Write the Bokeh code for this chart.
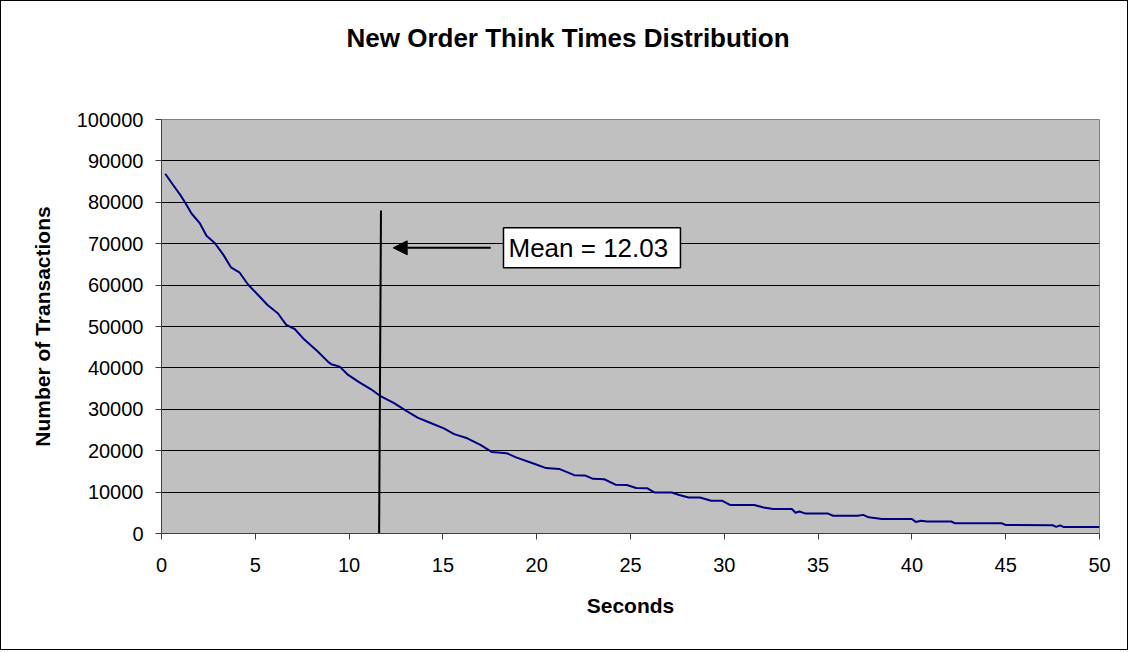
from bokeh.plotting import figure
from bokeh.models import Range1d, SingleIntervalTicker, BasicTickFormatter, Arrow, NormalHead, Label, Title
from bokeh.embed import file_html
from bokeh.resources import INLINE

# ---- data ----
seconds = [0.2, 0.6, 1.0, 1.25, 1.6, 2.05, 2.4, 2.85, 3.3, 3.7, 4.15, 4.6, 5.15, 5.65, 6.2, 6.65,
           7.1, 7.6, 8.3, 8.9, 9.05, 9.5, 9.95, 10.55, 11.15, 11.7, 12.4, 13.05, 13.65, 14.35, 15.05,
           15.6, 16.3, 17.0, 17.6, 18.4, 18.9, 19.9, 20.5, 21.2, 22.0, 22.6, 23.0, 23.6, 24.2, 24.8,
           25.3, 25.9, 26.3, 27.2, 27.6, 28.1, 28.7, 29.3, 29.9, 30.3, 31.6, 32.1, 32.6, 33.6, 33.8,
           34.0, 34.3, 35.5, 35.8, 36.9, 37.1, 37.4, 37.7, 38.4, 40.0, 40.2, 40.5, 40.8, 42.1, 42.3,
           44.8, 45.0, 47.5, 47.7, 47.9, 48.1, 50.0]
transactions = [86900, 84300, 81800, 80000, 77300, 74900, 71900, 70100, 67300, 64300, 63100, 60200,
                57600, 55200, 53200, 50400, 49400, 46900, 44100, 41400, 40900, 40300, 38300, 36500,
                34900, 33100, 31500, 29600, 28000, 26700, 25400, 24000, 23000, 21400, 19700, 19400,
                18400, 16800, 15800, 15600, 14100, 14000, 13200, 13100, 11800, 11700, 11000, 10900,
                9900, 9900, 9300, 8700, 8700, 7900, 7900, 6900, 6900, 6300, 5900, 5900, 5000,
                5300, 4850, 4850, 4300, 4300, 4300, 4500, 3900, 3500, 3500, 2800, 3100, 2900, 2900,
                2450, 2450, 2050, 2000, 1600, 1950, 1550, 1550]

mean_value = 12.03
mean_line_x = [11.6, 11.7]
mean_line_y = [0, 78000]
arrow_x = [17.55, 12.35]
arrow_y = [69000, 69000]
label_pos = [18.23, 69000]

title_text = "New Order Think Times Distribution"
x_label = "Seconds"
y_label = "Number of Transactions"

FONT = "Liberation Sans"

p = figure(width=1128, height=650, output_backend="svg", toolbar_location=None,
           x_range=Range1d(0, 50), y_range=Range1d(0, 100000),
           min_border_left=160, min_border_right=30, min_border_top=118, min_border_bottom=118)

p.styles = {"border": "1px solid black", "box-sizing": "border-box"}

p.background_fill_color = "#C0C0C0"
p.border_fill_color = "white"
p.outline_line_color = "#808080"
p.outline_line_width = 1

# spacer between the plot area and the chart title, then the title itself
p.add_layout(Title(text=" ", text_font_size="1px", standoff=54), "above")
p.add_layout(Title(text=title_text, align="left", offset=185, standoff=20,
                   text_font=FONT, text_font_size="26px", text_font_style="bold",
                   text_color="black"), "above")

p.xgrid.grid_line_color = None
p.ygrid.grid_line_color = "black"
p.ygrid.grid_line_width = 1

p.xaxis.ticker = SingleIntervalTicker(interval=5)
p.yaxis.ticker = SingleIntervalTicker(interval=10000)
p.yaxis.formatter = BasicTickFormatter(use_scientific=False)

for ax in (p.xaxis, p.yaxis):
    ax.axis_line_color = "#404040"
    ax.major_tick_line_color = "#404040"
    ax.minor_tick_line_color = None
    ax.major_tick_out = 6
    ax.major_tick_in = 0
    ax.major_label_text_font = FONT
    ax.major_label_text_font_size = "20px"
    ax.major_label_text_color = "black"
    ax.axis_label_text_font = FONT
    ax.axis_label_text_font_size = "21px"
    ax.axis_label_text_font_style = "bold"
    ax.axis_label_text_color = "black"

p.xaxis.axis_label = x_label
p.yaxis.axis_label = y_label
p.xaxis.major_label_standoff = 18
p.xaxis.axis_label_standoff = 19
p.yaxis.major_label_standoff = 12
p.yaxis.axis_label_standoff = 20

p.line(seconds, transactions, line_color="#000080", line_width=2)

p.line(mean_line_x, mean_line_y, line_color="black", line_width=2)

p.add_layout(Arrow(end=NormalHead(size=14, fill_color="black", line_color="black"),
                   x_start=arrow_x[0], y_start=arrow_y[0], x_end=arrow_x[1], y_end=arrow_y[1],
                   line_color="black", line_width=2))

p.add_layout(Label(x=label_pos[0], y=label_pos[1], text=f"Mean = {mean_value:.2f} ",
                   text_font=FONT, text_font_size="26px", text_color="black",
                   text_baseline="middle", text_align="left",
                   background_fill_color="white", border_line_color="black", border_line_width=1.5,
                   padding=5))

open("out.html", "w").write(file_html(p, INLINE))
